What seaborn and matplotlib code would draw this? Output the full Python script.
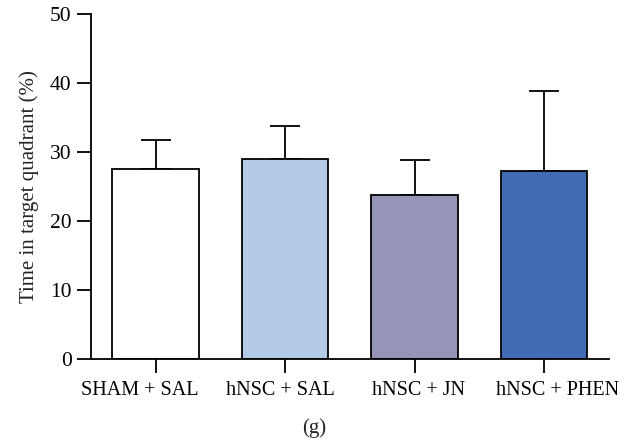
import matplotlib
matplotlib.use("Agg")
import matplotlib.pyplot as plt
import matplotlib.transforms as mtransforms
import seaborn as sns
import numpy as np
import pandas as pd

groups = ["SHAM + SAL", "hNSC + SAL", "hNSC + JN", "hNSC + PHEN"]
means = [27.6, 29.0, 23.7, 27.3]
sem = [4.2, 4.7, 5.1, 11.6]
colors = ["#ffffff", "#b3cbe8", "#9595b8", "#416cb4"]
yticks = [0, 10, 20, 30, 40, 50]

sns.set_theme(style="ticks")
plt.rcParams["font.family"] = ["Liberation Serif", "DejaVu Serif"]

df = pd.DataFrame({"group": groups, "time": means})

fig = plt.figure(figsize=(6.24, 4.42), dpi=100)
ax = fig.add_axes([0.1458, 0.1878, 0.8297, 0.7805])

sns.barplot(data=df, x="group", y="time", hue="group", palette=colors,
            order=groups, hue_order=groups, legend=False, errorbar=None,
            saturation=1, width=0.67, edgecolor="black", linewidth=1.3,
            ax=ax, zorder=2)

ax.errorbar(np.arange(len(groups)), means,
            yerr=[np.zeros(len(groups)), sem], fmt="none",
            ecolor="black", elinewidth=1.3, capsize=11, capthick=1.3, zorder=1)

ax.set_xlim(-0.5, 3.5)
ax.set_ylim(0, 50)
ax.set_yticks(yticks)
ax.set_xlabel("")
ax.set_ylabel("Time in target quadrant (%)", fontsize=15, labelpad=8)
ax.tick_params(axis="both", direction="out", length=10, width=1.3,
               colors="black")
ax.tick_params(axis="x", pad=6, labelsize=14.5)
ax.tick_params(axis="y", pad=4, labelsize=15.5)
for side in ("top", "right"):
    ax.spines[side].set_visible(False)
for side in ("left", "bottom"):
    ax.spines[side].set_linewidth(1.3)
    ax.spines[side].set_color("black")

# spread the category labels slightly wider than the bar spacing
shifts_pt = [-11.5, -3.6, 2.9, 10.1]
for lab, dx in zip(ax.get_xticklabels(), shifts_pt):
    lab.set_transform(lab.get_transform() +
                      mtransforms.ScaledTranslation(dx / 72, 0, fig.dpi_scale_trans))

fig.text(0.503, 0.032, "(g)", ha="center", va="center", fontsize=15)

fig.savefig("out.png", dpi=100)
